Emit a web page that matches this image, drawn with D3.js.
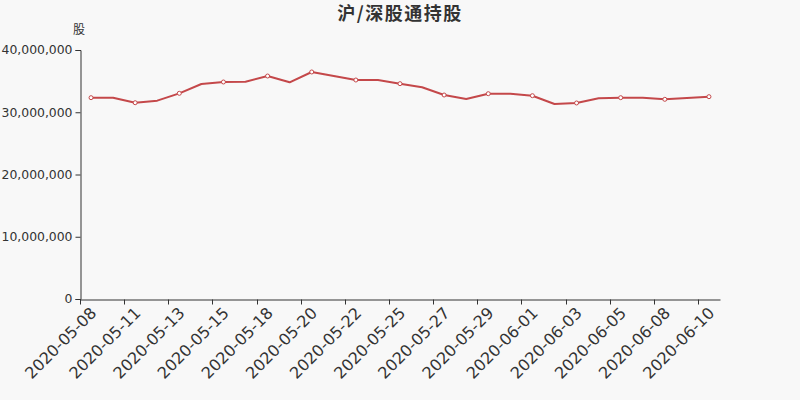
<!DOCTYPE html>
<html>
<head>
<meta charset="utf-8">
<script src="https://cdn.jsdelivr.net/npm/d3@7"></script>
<style>
  html, body { margin: 0; padding: 0; background: #f8f8f8; }
  svg { display: block; }
</style>
</head>
<body>
<svg id="chart" width="800" height="400"></svg>
<script>
const titleText = "沪/深股通持股";
const unitLabel = "股";
const dates = [
  "2020-05-08","2020-05-10","2020-05-11","2020-05-12","2020-05-13","2020-05-14","2020-05-15",
  "2020-05-17","2020-05-18","2020-05-19","2020-05-20","2020-05-21","2020-05-22","2020-05-24",
  "2020-05-25","2020-05-26","2020-05-27","2020-05-28","2020-05-29","2020-05-31","2020-06-01",
  "2020-06-02","2020-06-03","2020-06-04","2020-06-05","2020-06-07","2020-06-08","2020-06-09",
  "2020-06-10"
];
const holdings = [
  32340000, 32340000, 31530000, 31860000, 33040000, 34540000, 34860000,
  34910000, 35820000, 34810000, 36470000, 35820000, 35180000, 35180000,
  34590000, 34010000, 32770000, 32130000, 32980000, 32980000, 32660000,
  31330000, 31490000, 32240000, 32340000, 32340000, 32080000, 32300000,
  32500000
];
const yTicks = [0, 10000000, 20000000, 30000000, 40000000];

const svg = d3.select("#chart");
const margin = {left: 80, right: 80, top: 50, bottom: 101};
const W = 800, H = 400;
const x = d3.scaleBand().domain(dates).range([margin.left, W - margin.right]).paddingInner(0).paddingOuter(0);
const y = d3.scaleLinear().domain([0, 40000000]).range([H - margin.bottom, margin.top]);

const textColor = "#333";
const fontFam = "'DejaVu Sans', sans-serif";

// Title
svg.append("text")
  .attr("x", 400).attr("y", 20)
  .attr("text-anchor", "middle")
  .attr("font-family", "'Noto Sans CJK SC', sans-serif")
  .attr("font-size", 18).attr("font-weight", "bold")
  .attr("letter-spacing", 1.5)
  .attr("fill", textColor)
  .text(titleText);

// Unit label
svg.append("text")
  .attr("x", margin.left - 1).attr("y", 34)
  .attr("text-anchor", "middle")
  .attr("font-family", "'Noto Sans CJK SC', sans-serif")
  .attr("font-size", 12)
  .attr("fill", textColor)
  .text(unitLabel);

// Y axis
const yAxis = d3.axisLeft(y).tickValues(yTicks).tickSize(5).tickPadding(3)
  .tickFormat(d3.format(","));
const gy = svg.append("g").attr("transform", `translate(${margin.left + 0.5},0)`).call(yAxis);
gy.select(".domain").attr("stroke", textColor);
gy.selectAll(".tick line").attr("stroke", textColor);
gy.selectAll(".tick text").attr("fill", textColor).attr("font-size", 12.4).attr("font-family", fontFam);

// X axis
const xAxis = d3.axisBottom(x).tickSizeOuter(0).tickSize(0).tickFormat("");
const gx = svg.append("g").attr("transform", `translate(0,${H - margin.bottom + 0.5})`).call(xAxis);
gx.select(".domain").attr("stroke", textColor);
gx.selectAll(".tick").remove();
// ticks at band starts every 2 categories, labels at band centers
dates.forEach((d, i) => {
  if (i % 2 !== 0) return;
  const bx = Math.round(x(d)) + 0.5;
  gx.append("line").attr("x1", bx).attr("x2", bx).attr("y1", 0).attr("y2", 5).attr("stroke", textColor);
  const cx = x(d) + x.bandwidth() / 2;
  gx.append("text")
    .attr("transform", `translate(${cx - 2},${6}) rotate(-45)`)
    .attr("text-anchor", "end")
    .attr("dy", "0.75em")
    .attr("font-family", fontFam)
    .attr("font-size", 16)
    .attr("fill", textColor)
    .text(d);
});

// Line
const lineColor = "#c4484a";
const line = d3.line()
  .x((d, i) => x(dates[i]) + x.bandwidth() / 2)
  .y(d => y(d));
svg.append("path")
  .datum(holdings)
  .attr("fill", "none")
  .attr("stroke", lineColor)
  .attr("stroke-width", 2)
  .attr("stroke-linejoin", "round")
  .attr("d", line);

svg.append("g").selectAll("circle")
  .data(holdings.map((v, i) => ({v, i})).filter(d => d.i % 2 === 0))
  .join("circle")
  .attr("cx", d => x(dates[d.i]) + x.bandwidth() / 2)
  .attr("cy", d => y(d.v))
  .attr("r", 2)
  .attr("fill", "#fff")
  .attr("stroke", lineColor)
  .attr("stroke-width", 1);
</script>
</body>
</html>
